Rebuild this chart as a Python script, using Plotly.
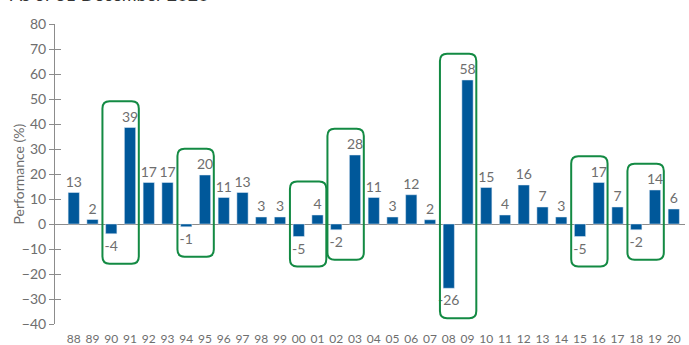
import plotly.graph_objects as go

years = ["88", "89", "90", "91", "92", "93", "94", "95", "96", "97", "98", "99",
         "00", "01", "02", "03", "04", "05", "06", "07", "08", "09", "10", "11",
         "12", "13", "14", "15", "16", "17", "18", "19", "20"]
performance = [12.6, 1.8, -3.9, 38.6, 16.6, 16.6, -1.1, 19.6, 10.6, 12.6, 2.8, 2.8,
               -5.0, 3.6, -2.3, 27.6, 10.6, 2.8, 11.7, 1.7, -25.7, 57.6, 14.6, 3.6,
               15.6, 6.8, 2.8, -5.0, 16.6, 6.8, -2.3, 13.6, 6.0]
# pairs of years highlighted (first year of each pair)
highlight_start = ["90", "94", "00", "02", "08", "15", "18"]

title_text = "As of 31 December 2020"
y_title = "Performance (%)"

BAR = "#00589a"
GREEN = "#138a43"
GREY_AX = "#8c8c8c"
GREY_TXT = "#6e6e6e"
FONT = "Lato"

idx = list(range(len(years)))
labels = [f"{round(v):d}" for v in performance]

fig = go.Figure()
fig.add_trace(go.Bar(
    x=idx, y=performance, width=0.6, marker_color=BAR,
    text=labels, textposition="outside", cliponaxis=False, constraintext="none",
    textfont=dict(family=FONT, size=14, color=GREY_TXT),
    hoverinfo="skip",
))
# invisible trace for the inside-tick overlay axis
fig.add_trace(go.Scatter(x=[0], y=[0], yaxis="y2", mode="markers",
                         marker=dict(opacity=0), showlegend=False, hoverinfo="skip"))

shapes = []
rx, ry = 0.38, 2.9
for s in highlight_start:
    i = years.index(s)
    pair = performance[i:i + 2]
    top = max(max(pair) + 10.5, 17)
    bot = min(pair) - 12
    x0, x1 = i - 0.47, i + 1.47
    y0, y1 = bot, top
    path = (f"M {x0+rx},{y0} L {x1-rx},{y0} Q {x1},{y0} {x1},{y0+ry} "
            f"L {x1},{y1-ry} Q {x1},{y1} {x1-rx},{y1} L {x0+rx},{y1} "
            f"Q {x0},{y1} {x0},{y1-ry} L {x0},{y0+ry} Q {x0},{y0} {x0+rx},{y0} Z")
    shapes.append(dict(type="path", path=path, xref="x", yref="y",
                       line=dict(color=GREEN, width=2)))

fig.update_layout(
    width=689, height=345,
    margin=dict(l=55, r=4, t=24, b=21),
    paper_bgcolor="white", plot_bgcolor="white",
    showlegend=False,
    font=dict(family=FONT, color=GREY_TXT),
    shapes=shapes,
    xaxis=dict(range=[-1.0, 32.6], tickmode="array", tickvals=idx, ticktext=years,
               showgrid=False, zeroline=False, showline=False, automargin=False,
               ticks="outside", ticklen=4, tickcolor="rgba(0,0,0,0)",
               tickfont=dict(family=FONT, size=12, color=GREY_TXT)),
    yaxis=dict(range=[-40, 80], dtick=10, tick0=0, showgrid=False, automargin=False,
               zeroline=True, zerolinecolor=GREY_AX, zerolinewidth=1,
               showline=True, linecolor=GREY_AX, linewidth=1,
               ticks="outside", ticklen=5, tickcolor=GREY_AX,
               tickfont=dict(family=FONT, size=14, color=GREY_TXT)),
    yaxis2=dict(range=[-40, 80], dtick=10, tick0=0, overlaying="y", side="left",
                anchor="x", showgrid=False, zeroline=False, showline=False,
                automargin=False,
                ticks="inside", ticklen=6, tickcolor=GREY_AX, showticklabels=False),
    annotations=[
        dict(text=title_text, xref="paper", yref="paper",
             x=-0.075, y=1.056, xanchor="left", yanchor="bottom",
             showarrow=False,
             font=dict(family=FONT, size=18, color="#333333")),
        dict(text=y_title, xref="paper", yref="paper",
             x=-0.058, y=0.5, xanchor="center", yanchor="middle", textangle=-90,
             showarrow=False,
             font=dict(family=FONT, size=14, color=GREY_TXT)),
    ],
)

fig.write_html("out.html")
